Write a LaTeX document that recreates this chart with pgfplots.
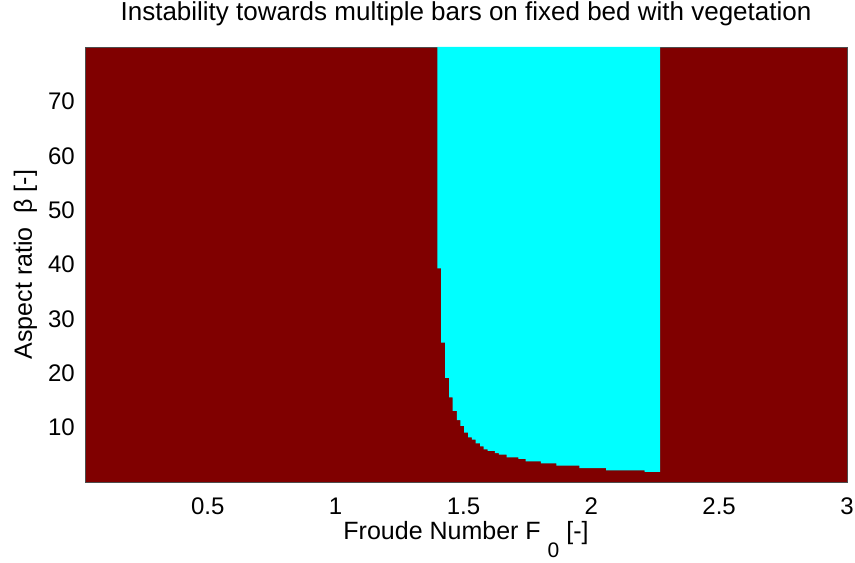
\documentclass[border=0pt]{standalone}
\usepackage{fontspec}
\setmainfont{Liberation Sans}
\usepackage{pgfplots}
\pgfplotsset{compat=1.18}
\definecolor{matdarkred}{rgb}{0.5,0,0}
\definecolor{matcyan}{rgb}{0,1,1}
\begin{document}
\fontsize{25}{30}\selectfont
\begin{tikzpicture}
\begin{axis}[
  scale only axis, width=762pt, height=435pt,
  xmin=0.02, xmax=3, ymin=0, ymax=80,
  xtick={0.5,1,1.5,2,2.5,3}, ytick={10,20,30,40,50,60,70},
  major tick length=0pt,
  /pgf/number format/assume math mode=true,
  axis background/.style={fill=matdarkred},
  axis line style={black!70, line width=0.6pt},
  tick label style={font=\fontsize{24}{28}\selectfont, inner sep=0pt},
  label style={font=\fontsize{25}{30}\selectfont},
  title style={font=\fontsize{26}{31}\selectfont, at={(axis description cs:0.5,1.046)}, anchor=base},
  title={Instability towards multiple bars on fixed bed with vegetation},
  xlabel={Froude Number F \raisebox{-18pt}{\fontsize{21}{24}\selectfont 0} [-]},
  ylabel={Aspect ratio\ \ β [-]},
  xticklabel style={anchor=base, yshift=-33pt},
  yticklabel style={anchor=east, xshift=-10pt},
  xlabel style={at={(axis description cs:0.5,-0.1333)}, anchor=base},
  ylabel style={at={(axis description cs:-0.0696,0.5)}, anchor=base},
]
\addplot[fill=matcyan, draw=none] coordinates {
(1.398,80) (1.398,39.30) (1.413,39.30) (1.413,25.62) (1.428,25.62) (1.428,19.13)
(1.444,19.13) (1.444,15.58) (1.458,15.58) (1.458,13.06) (1.474,13.06) (1.474,11.40)
(1.488,11.40) (1.488,10.30) (1.503,10.30) (1.503,9.07) (1.518,9.07) (1.518,8.22)
(1.533,8.22) (1.533,7.78) (1.548,7.78) (1.548,7.12) (1.565,7.12) (1.565,6.57)
(1.579,6.57) (1.579,6.01) (1.595,6.01) (1.595,5.70) (1.623,5.70) (1.623,5.33)
(1.639,5.33) (1.639,5.02) (1.669,5.02) (1.669,4.54) (1.715,4.54) (1.715,4.23)
(1.743,4.23) (1.743,3.81) (1.803,3.81) (1.803,3.44) (1.863,3.44) (1.863,3.00)
(1.953,3.00) (1.953,2.57) (2.058,2.57) (2.058,2.15) (2.209,2.15) (2.209,1.84)
(2.269,1.84) (2.269,80)
} -- cycle;
\end{axis}
\pgfresetboundingbox
\path[use as bounding box] ([xshift=-85pt,yshift=-81pt]current axis.south west) rectangle ([xshift=8pt,yshift=47pt]current axis.north east);
\end{tikzpicture}
\end{document}
